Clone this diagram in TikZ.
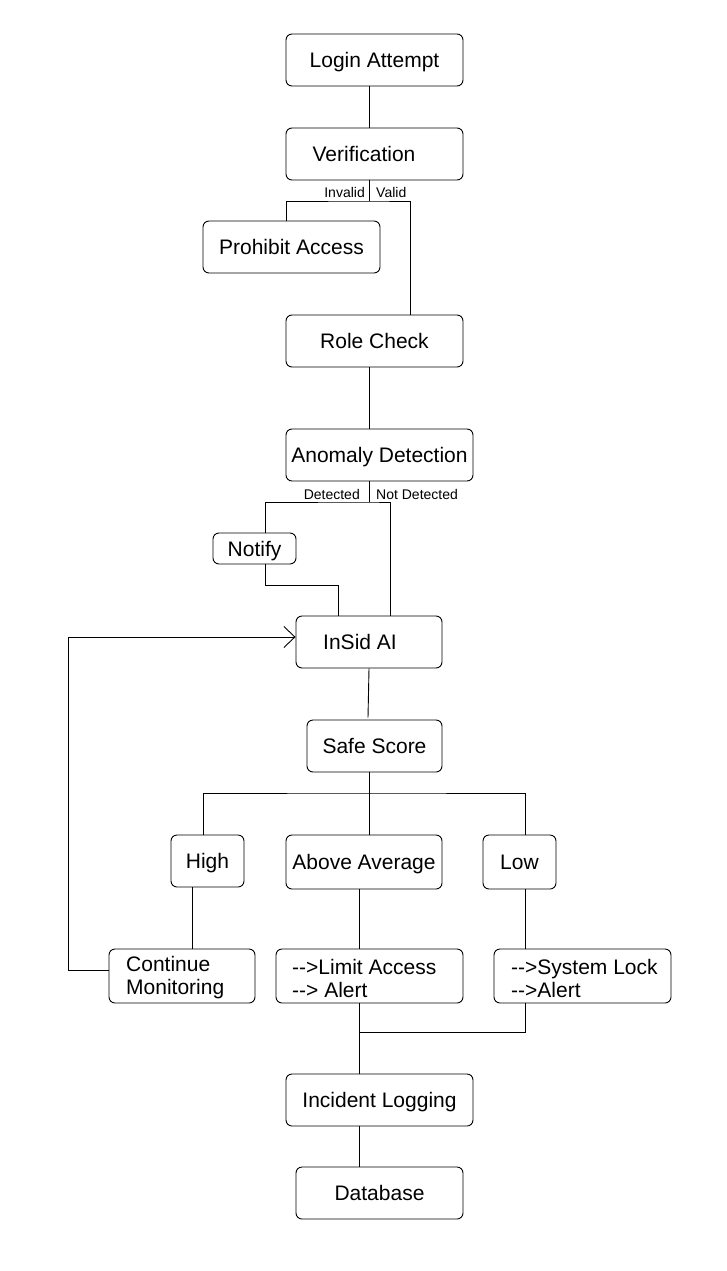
\documentclass[tikz,border=0pt]{standalone}
\usepackage{fontspec}
\setmainfont{Liberation Sans}
\usetikzlibrary{arrows.meta,calc}
\tikzset{
  box/.style={draw, rounded corners=6pt, line width=0.9pt, inner sep=0pt, text height=15pt, text depth=0pt, font=\fontsize{21}{23}\selectfont},
  txt/.style={inner sep=0pt, text height=15pt, text depth=0pt, font=\fontsize{21}{23}\selectfont},
  mtxt/.style={inner sep=0pt, yshift=-2pt, font=\fontsize{21}{23}\selectfont},
  lbl/.style={inner sep=0pt, font=\fontsize{14}{16}\selectfont},
  conn/.style={line width=0.9pt},
}
\begin{document}
\begin{tikzpicture}[x=1pt,y=-1pt]
\useasboundingbox (0,0) rectangle (726,1271);
% columns / rows
\coordinate (c369) at (369,0);
\coordinate (c410) at (410,0);
\coordinate (c286) at (286,0);
\coordinate (c265) at (265,0);
\coordinate (c390) at (390,0);
\coordinate (c338) at (338,0);
\coordinate (c203) at (203,0);
\coordinate (c525) at (525,0);
\coordinate (c192) at (192,0);
\coordinate (c359) at (359,0);
\coordinate (c68) at (68,0);
\coordinate (r970) at (0,970);
\coordinate (r637) at (0,637);
\coordinate (r1032) at (0,1032);
\coordinate (vj) at (369,201);
\coordinate (aj) at (369,502);
\coordinate (sj) at (369,793);
\coordinate (ie) at (368,717.5);

% boxes
\node[box, minimum width=177pt, minimum height=52pt] (login) at (374.5,60) {Login Attempt};
\node[box, minimum width=177pt, minimum height=52pt] (verif) at (374.5,154) {};
\node[txt] (verift) at (364,154) {Verification};
\node[box, minimum width=177pt, minimum height=52pt] (prohib) at (291.5,247) {Prohibit Access};
\node[box, minimum width=177pt, minimum height=52pt] (role) at (374.5,341) {Role Check};
\node[box, minimum width=187pt, minimum height=52pt] (anom) at (379.5,455) {Anomaly Detection};
\node[box, minimum width=83pt, minimum height=31pt] (notify) at (254.5,548.5) {Notify};
\node[box, minimum width=146pt, minimum height=52pt] (insid) at (369,642) {};
\node[txt] (insidt) at (360,642) {InSid AI};
\node[box, minimum width=135pt, minimum height=52pt] (safe) at (374.5,746) {Safe Score};
\node[box, minimum width=73pt, minimum height=52pt] (high) at (207.5,861) {High};
\node[box, minimum width=156pt, minimum height=54pt] (above) at (364,862) {Above Average};
\node[box, minimum width=73pt, minimum height=54pt] (low) at (519.5,862) {Low};
\node[box, minimum width=146pt, minimum height=54pt] (cont) at (182,976) {};
\node[mtxt, anchor=west, align=left] (contt) at (126,976) {Continue\\Monitoring};
\node[box, minimum width=187pt, minimum height=54pt] (limit) at (369.5,976) {};
\node[mtxt, anchor=west, align=left] (limitt) at (292,976) {-{}->Limit Access\\-{}-> Alert};
\node[box, minimum width=177pt, minimum height=54pt] (sys) at (582.5,976) {};
\node[mtxt, anchor=west, align=left] (syst) at (511,976) {-{}->System Lock\\-{}->Alert};
\node[box, minimum width=187pt, minimum height=52pt] (incident) at (379.5,1100) {Incident Logging};
\node[box, minimum width=167pt, minimum height=52pt] (db) at (379.5,1193) {Database};

% labels
\node[lbl, anchor=east] (linv) at (365,192) {Invalid};
\node[lbl, anchor=west] (lval) at (376,192) {Valid};
\node[lbl, anchor=east] (ldet) at (360,494) {Detected};
\node[lbl, anchor=west] (lndet) at (376,494) {Not Detected};

% connectors
\draw[conn] (login.south -| c369) -- (verif.north -| c369);
\draw[conn] (verif.south -| c369) -- (vj);
\draw[conn] (prohib.north -| c286) |- (vj) -| (role.north -| c410);
\draw[conn] (role.south -| c369) -- (anom.north -| c369);
\draw[conn] (anom.south -| c369) -- (aj);
\draw[conn] (notify.north -| c265) |- (aj) -| (insid.north -| c390);
\draw[conn] (notify.south -| c265) -- ++(0,21) -| (insid.north -| c338);
\draw[conn] (insid.south -| c369) -- (ie);
\draw[conn] (safe.south -| c369) -- (sj);
\draw[conn] (high.north -| c203) |- (sj) -| (low.north -| c525);
\draw[conn] (sj) -- (above.north -| c369);
\draw[conn] (high.south -| c192) -- (cont.north -| c192);
\draw[conn] (above.south -| c359) -- (limit.north -| c359);
\draw[conn] (low.south -| c525) -- (sys.north -| c525);
\draw[conn, -{Straight Barb[length=11pt,width=21pt,line width=0.9pt]}] (cont.west |- r970) -| (c68 |- r637) -- (insid.west |- r637);
\draw[conn] (limit.south -| c359) -- (incident.north -| c359);
\draw[conn] (sys.south -| c525) |- (c359 |- r1032);
\draw[conn] (incident.south -| c359) -- (db.north -| c359);
\end{tikzpicture}
\end{document}
